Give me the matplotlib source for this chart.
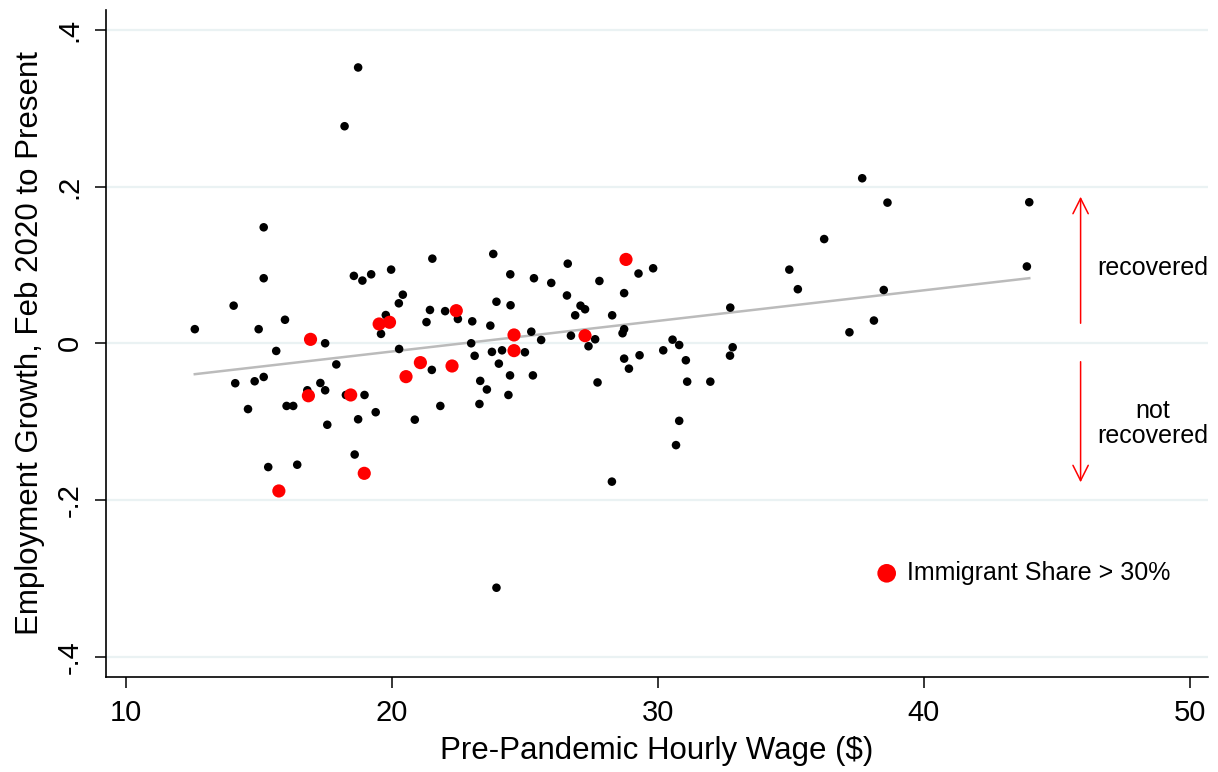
import numpy as np
import matplotlib
matplotlib.use("Agg")
import matplotlib.pyplot as plt

# ── Data ──────────────────────────────────────────────────────────────────────
wage_all = [
    12.59, 14.05, 14.11, 14.59, 14.84, 14.99, 15.18, 15.18, 15.18, 15.35,
    15.65, 15.98, 16.04, 16.29, 16.44, 16.82, 17.31, 17.49, 17.49, 17.57,
    17.91, 18.22, 18.27, 18.57, 18.60, 18.73, 18.73, 18.89, 18.97, 19.22,
    19.39, 19.59, 19.77, 19.97, 20.26, 20.27, 20.41, 20.86, 21.30, 21.43,
    21.50, 21.52, 21.82, 22.00, 22.48, 22.98, 23.02, 23.11, 23.29, 23.32,
    23.57, 23.70, 23.76, 23.81, 23.93, 23.93, 24.02, 24.14, 24.38, 24.44,
    24.45, 24.46, 25.00, 25.24, 25.30, 25.34, 25.61, 25.99, 26.58, 26.61,
    26.73, 26.89, 27.09, 27.26, 27.39, 27.64, 27.73, 27.80, 28.27, 28.28,
    28.67, 28.73, 28.73, 28.73, 28.91, 29.27, 29.31, 29.82, 30.20, 30.55,
    30.80, 30.80, 30.68, 31.05, 31.10, 31.97, 32.71, 32.72, 32.81, 34.94,
    35.26, 36.25, 37.20, 37.68, 38.12, 38.49, 38.63, 43.87, 43.96,
]
growth_all = [
    0.018, 0.048, -0.051, -0.084, -0.0485, 0.018, 0.148, 0.083, -0.043, -0.158,
    -0.0098, 0.030, -0.080, -0.080, -0.155, -0.060, -0.0507, 0.000, -0.060, -0.104,
    -0.027, 0.277, -0.066, 0.086, -0.142, 0.352, -0.097, 0.080, -0.066, 0.088,
    -0.088, 0.012, 0.036, 0.094, 0.051, -0.0073, 0.062, -0.0975, 0.027, 0.0425,
    -0.034, 0.108, -0.080, 0.041, 0.031, 0.000, 0.028, -0.016, -0.0775, -0.048,
    -0.059, 0.0225, -0.011, 0.114, 0.053, -0.312, -0.026, -0.009, -0.066, -0.041,
    0.088, 0.0485, -0.0115, 0.0148, -0.041, 0.083, 0.0042, 0.077, 0.061, 0.1016,
    0.0097, 0.0357, 0.048, 0.0434, -0.0038, 0.0051, -0.050, 0.0795, -0.1766, 0.0357,
    0.0128, 0.018, 0.064, -0.0196, -0.0324, 0.089, -0.0153, 0.0957, -0.009, 0.0046,
    -0.0022, -0.099, -0.130, -0.0217, -0.049, -0.049, -0.0158, 0.0455, -0.0051, 0.094,
    0.069, 0.133, 0.014, 0.2106, 0.029, 0.068, 0.1795, 0.098, 0.180,
]

# occupations with immigrant share above 30%
wage_imm = [15.75, 16.86, 16.94, 18.45, 18.96, 19.52, 19.91, 20.53,
            21.07, 22.26, 22.42, 24.59, 24.59, 27.26, 28.80]
growth_imm = [-0.1885, -0.067, 0.005, -0.066, -0.166, 0.0246, 0.0268, -0.0426,
              -0.0247, -0.029, 0.0416, 0.0106, -0.0094, 0.0097, 0.107]

x_ticks = [10, 20, 30, 40, 50]
y_ticks = [-0.4, -0.2, 0, 0.2, 0.4]
y_tick_labels = ["-.4", "-.2", "0", ".2", ".4"]

# ── Style ─────────────────────────────────────────────────────────────────────
plt.rcParams.update({
    "font.family": ["Liberation Sans", "DejaVu Sans"],
    "axes.linewidth": 1.2,
})

fig = plt.figure(figsize=(12.18, 7.72), dpi=100)
ax = fig.add_axes([0.087, 0.1231, 0.9048, 0.864])

# fitted line over the full sample
all_x = np.array(wage_all + wage_imm)
all_y = np.array(growth_all + growth_imm)
slope, intercept = np.polyfit(all_x, all_y, 1)
line_x = np.array([all_x.min(), all_x.max()])
ax.plot(line_x, intercept + slope * line_x, color="#BBBBBB", lw=1.8, zorder=2)

ax.scatter(wage_all, growth_all, s=38, color="black", edgecolors="none", zorder=3)
ax.scatter(wage_imm, growth_imm, s=90, color="#FF0000", edgecolors="none", zorder=4)

# annotations
arrow_kw = dict(arrowstyle="->,head_length=0.5,head_width=0.25",
                color="#FF0000", lw=1.1, mutation_scale=22)
ax.annotate("", xy=(45.89, 0.1906), xytext=(45.89, 0.022), arrowprops=arrow_kw)
ax.annotate("", xy=(45.89, -0.181), xytext=(45.89, -0.020), arrowprops=arrow_kw)
ax.text(48.6, 0.096, "recovered", fontsize=18, ha="center", va="center")
ax.text(48.6, -0.102, "not\nrecovered", fontsize=18, ha="center", va="center",
        linespacing=1.05)

# legend-style label
ax.scatter([38.6], [-0.2936], s=180, color="#FF0000", edgecolors="none", zorder=4)
ax.text(39.36, -0.2936, "Immigrant Share > 30%", fontsize=18, ha="left", va="center")

# ── Axes formatting ───────────────────────────────────────────────────────────
ax.set_xlim(9.25, 50.68)
ax.set_ylim(-0.4259, 0.4254)
ax.set_xticks(x_ticks)
ax.set_yticks(y_ticks)
ax.set_yticklabels(y_tick_labels, rotation=90, va="center")
ax.tick_params(axis="both", labelsize=21, length=8, width=1.1, pad=8)
ax.grid(axis="y", color="#EAF2F3", lw=1.6)
ax.set_axisbelow(True)
ax.spines[["top", "right"]].set_visible(False)

ax.set_xlabel("Pre-Pandemic Hourly Wage ($)", fontsize=22.5, labelpad=6)
ax.set_ylabel("Employment Growth, Feb 2020 to Present", fontsize=22.5, labelpad=8)

fig.savefig("out.png", dpi=100, facecolor="white")
